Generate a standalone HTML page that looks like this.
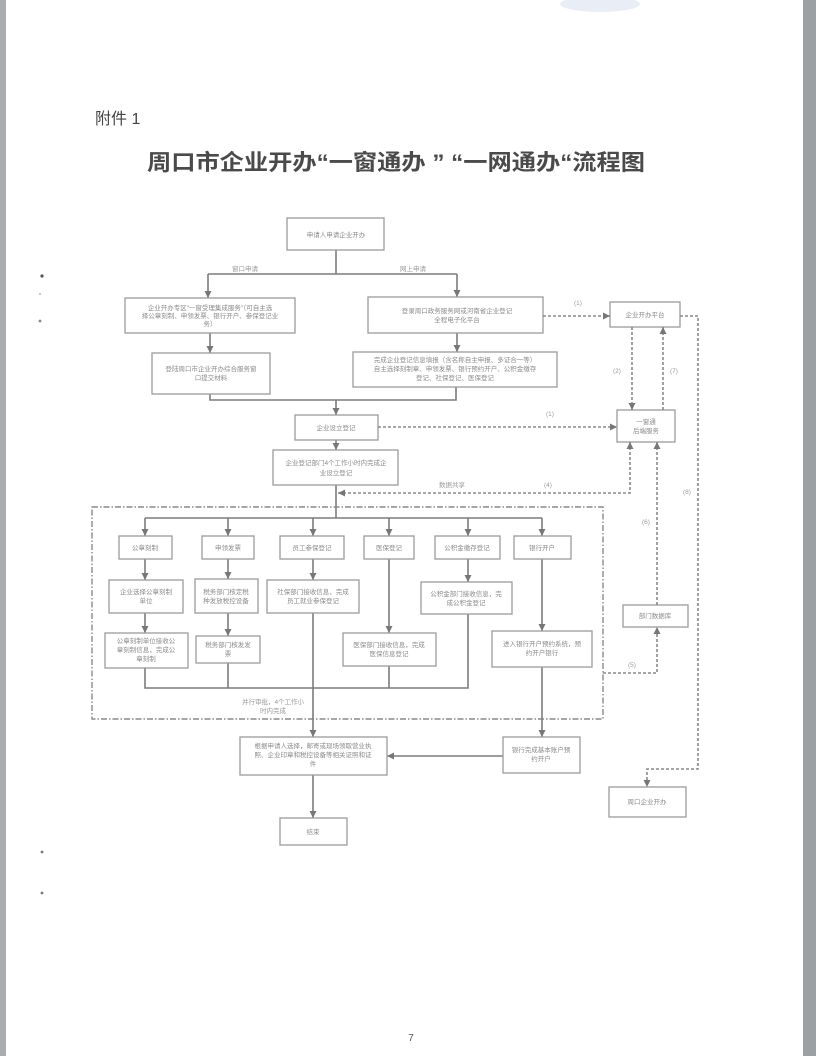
<!DOCTYPE html>
<html><head><meta charset="utf-8">
<style>
html,body{margin:0;padding:0;background:#fff;}
svg{display:block;}
text{font-family:"Liberation Sans","Noto Sans CJK SC",sans-serif;}
.t{font-size:6.5px;fill:#8a8a8a;text-anchor:middle;}
.l{font-size:6.5px;fill:#9a9a9a;text-anchor:middle;}
.b{fill:#fff;stroke:#9c9c9c;stroke-width:1.3;}
.s{fill:none;stroke:#7c7c7c;stroke-width:1.6;}
.d{fill:none;stroke:#8a8a8a;stroke-width:1.6;stroke-dasharray:3 2;}
</style></head><body>
<svg width="816" height="1056" viewBox="0 0 816 1056" xmlns="http://www.w3.org/2000/svg">
<defs>
<marker id="a" viewBox="0 0 10 10" refX="10" refY="5" markerWidth="7" markerHeight="7" orient="auto-start-reverse" markerUnits="userSpaceOnUse"><path d="M0,0 L10,5 L0,10 z" fill="#777"/></marker>
</defs>
<rect width="816" height="1056" fill="#fff"/>
<rect x="0" y="0" width="6" height="1056" fill="#a9acb0"/>
<rect x="803" y="0" width="13" height="1056" fill="#9c9fa3"/>
<ellipse cx="600" cy="4" rx="40" ry="8" fill="#e9edf6"/>

<!-- left dots -->
<circle cx="42" cy="276" r="1.6" fill="#555"/>
<circle cx="40" cy="294" r="1" fill="#bbb"/>
<circle cx="40" cy="321" r="1.4" fill="#888"/>
<circle cx="42" cy="852" r="1.4" fill="#777"/>
<circle cx="42" cy="893" r="1.4" fill="#777"/>

<!-- titles -->
<text x="95" y="124" font-size="16" fill="#444">附件 1</text>
<text x="147" y="170" font-size="22" font-weight="bold" fill="#4a4a4a" textLength="498" lengthAdjust="spacingAndGlyphs">周口市企业开办“一窗通办 ” “一网通办“流程图</text>

<!-- top section solid connectors -->
<path class="s" d="M336,250 V274 M208,274 H457"/>
<path class="s" d="M208,274 V298" marker-end="url(#a)"/>
<path class="s" d="M457,274 V297" marker-end="url(#a)"/>
<path class="s" d="M210,333 V353" marker-end="url(#a)"/>
<path class="s" d="M457,333 V352" marker-end="url(#a)"/>
<path class="s" d="M210,394 V400 H456 V387"/>
<path class="s" d="M336,400 V415" marker-end="url(#a)"/>
<path class="s" d="M336,440 V450" marker-end="url(#a)"/>
<path class="s" d="M336,485 V518 M145,518 H542"/>
<text class="l" x="245" y="271">窗口申请</text>
<text class="l" x="413" y="271">网上申请</text>

<!-- boxes top -->
<rect class="b" x="287" y="218" width="97" height="32"/>
<text class="t" x="336" y="237">申请人申请企业开办</text>

<rect class="b" x="125" y="298" width="170" height="35"/>
<text class="t" x="210" y="310">企业开办专区“一窗受理集成服务”（可自主选</text>
<text class="t" x="210" y="318">择公章刻制、申领发票、银行开户、参保登记业</text>
<text class="t" x="210" y="326">务）</text>

<rect class="b" x="368" y="297" width="175" height="36"/>
<text class="t" x="457" y="313">登录周口政务服务网或河南省企业登记</text>
<text class="t" x="457" y="322">全程电子化平台</text>

<rect class="b" x="152" y="353" width="118" height="41"/>
<text class="t" x="211" y="371">登陆周口市企业开办综合服务窗</text>
<text class="t" x="211" y="380">口提交材料</text>

<rect class="b" x="353" y="352" width="204" height="35"/>
<text class="t" x="455" y="362">完成企业登记信息填报（含名称自主申报、多证合一等）</text>
<text class="t" x="455" y="371">自主选择刻制章、申领发票、银行预约开户、公积金缴存</text>
<text class="t" x="455" y="380">登记、社保登记、医保登记</text>

<rect class="b" x="295" y="415" width="83" height="25"/>
<text class="t" x="336" y="430">企业设立登记</text>

<rect class="b" x="273" y="450" width="125" height="35"/>
<text class="t" x="336" y="465">企业登记部门4个工作小时内完成企</text>
<text class="t" x="336" y="475">业设立登记</text>

<!-- right side boxes -->
<rect class="b" x="610" y="302" width="70" height="25"/>
<text class="t" x="645" y="317">企业开办平台</text>
<rect class="b" x="617" y="410" width="58" height="32"/>
<text class="t" x="646" y="424">一窗通</text>
<text class="t" x="646" y="433">后端服务</text>
<rect class="b" x="623" y="605" width="65" height="22"/>
<text class="t" x="655" y="618">部门数据库</text>
<rect class="b" x="609" y="787" width="77" height="30"/>
<text class="t" x="647" y="804">周口企业开办</text>

<!-- dashed connectors -->
<path class="d" d="M543,316 H610" marker-end="url(#a)"/>
<text class="l" x="578" y="305">(1)</text>
<path class="d" d="M378,427 H617" marker-end="url(#a)"/>
<text class="l" x="550" y="416">(1)</text>
<path class="d" d="M632,327 V410" marker-end="url(#a)"/>
<text class="l" x="617" y="373">(2)</text>
<path class="d" d="M663,410 V327" marker-end="url(#a)"/>
<text class="l" x="674" y="373">(7)</text>
<path class="d" d="M630,442 V493 H338" marker-start="url(#a)" marker-end="url(#a)"/>
<text class="l" x="452" y="487">数据共享</text>
<text class="l" x="548" y="487">(4)</text>
<path class="d" d="M657,605 V442" marker-end="url(#a)"/>
<text class="l" x="646" y="524">(6)</text>
<path class="d" d="M603,673 H657 V627" marker-end="url(#a)"/>
<text class="l" x="632" y="667">(5)</text>
<path class="d" d="M680,316 H698 V769 H647 V787" marker-end="url(#a)"/>
<text class="l" x="687" y="494">(8)</text>

<!-- dash-dot container -->
<rect x="92" y="507" width="511" height="212" fill="none" stroke="#8a8a8a" stroke-width="1.4" stroke-dasharray="6 2 1.5 2"/>

<!-- column drops -->
<path class="s" d="M145,518 V536" marker-end="url(#a)"/>
<path class="s" d="M228,518 V536" marker-end="url(#a)"/>
<path class="s" d="M313,518 V536" marker-end="url(#a)"/>
<path class="s" d="M389,518 V536" marker-end="url(#a)"/>
<path class="s" d="M468,518 V536" marker-end="url(#a)"/>
<path class="s" d="M542,518 V536" marker-end="url(#a)"/>

<path class="s" d="M145,559 V580" marker-end="url(#a)"/>
<path class="s" d="M228,559 V579" marker-end="url(#a)"/>
<path class="s" d="M313,559 V580" marker-end="url(#a)"/>
<path class="s" d="M468,559 V582" marker-end="url(#a)"/>
<path class="s" d="M389,559 V633" marker-end="url(#a)"/>
<path class="s" d="M542,559 V631" marker-end="url(#a)"/>
<path class="s" d="M145,613 V633" marker-end="url(#a)"/>
<path class="s" d="M228,613 V636" marker-end="url(#a)"/>

<path class="s" d="M145,668 V688 H468 V614 M228,663 V688 M389,666 V688"/>
<path class="s" d="M313,613 V737" marker-end="url(#a)"/>
<path class="s" d="M542,667 V737" marker-end="url(#a)"/>
<path class="s" d="M503,756 H387" marker-end="url(#a)"/>
<path class="s" d="M313,775 V818" marker-end="url(#a)"/>

<!-- row 1 -->
<rect class="b" x="119" y="536" width="53" height="23"/><text class="t" x="145" y="550">公章刻制</text>
<rect class="b" x="202" y="536" width="52" height="23"/><text class="t" x="228" y="550">申领发票</text>
<rect class="b" x="280" y="536" width="64" height="23"/><text class="t" x="312" y="550">员工参保登记</text>
<rect class="b" x="364" y="536" width="50" height="23"/><text class="t" x="389" y="550">医保登记</text>
<rect class="b" x="435" y="536" width="65" height="23"/><text class="t" x="467" y="550">公积金缴存登记</text>
<rect class="b" x="514" y="536" width="57" height="23"/><text class="t" x="542" y="550">银行开户</text>

<!-- row 2 -->
<rect class="b" x="109" y="580" width="74" height="33"/>
<text class="t" x="146" y="594">企业选择公章刻制</text><text class="t" x="146" y="603">单位</text>
<rect class="b" x="195" y="579" width="63" height="34"/>
<text class="t" x="226" y="594">税务部门核定税</text><text class="t" x="226" y="603">种发放税控设备</text>
<rect class="b" x="267" y="580" width="92" height="33"/>
<text class="t" x="313" y="594">社保部门接收信息，完成</text><text class="t" x="313" y="603">员工就业参保登记</text>
<rect class="b" x="421" y="582" width="91" height="32"/>
<text class="t" x="466" y="596">公积金部门接收信息，完</text><text class="t" x="466" y="605">成公积金登记</text>

<!-- row 3 -->
<rect class="b" x="105" y="633" width="83" height="35"/>
<text class="t" x="146" y="643">公章刻制单位接收公</text><text class="t" x="146" y="652">章刻制信息，完成公</text><text class="t" x="146" y="661">章刻制</text>
<rect class="b" x="196" y="636" width="64" height="27"/>
<text class="t" x="228" y="647">税务部门核发发</text><text class="t" x="228" y="656">票</text>
<rect class="b" x="343" y="633" width="93" height="33"/>
<text class="t" x="389" y="647">医保部门接收信息，完成</text><text class="t" x="389" y="656">医保信息登记</text>
<rect class="b" x="492" y="631" width="100" height="36"/>
<text class="t" x="542" y="646">进入银行开户预约系统，预</text><text class="t" x="542" y="655">约开户银行</text>

<text class="l" x="273" y="704">并行审批，4个工作小</text>
<text class="l" x="273" y="713">时内完成</text>

<!-- bottom boxes -->
<rect class="b" x="240" y="737" width="147" height="38"/>
<text class="t" x="313" y="748">根据申请人选择，邮寄或现场领取营业执</text>
<text class="t" x="313" y="757">照、企业印章和税控设备等相关证照和证</text>
<text class="t" x="313" y="766">件</text>
<rect class="b" x="503" y="737" width="77" height="36"/>
<text class="t" x="541" y="752">银行完成基本账户预</text>
<text class="t" x="541" y="761">约开户</text>
<rect class="b" x="280" y="818" width="67" height="27"/>
<text class="t" x="313" y="834">结束</text>

<text x="411" y="1041" font-size="10" fill="#555" text-anchor="middle">7</text>
</svg>
</body></html>
